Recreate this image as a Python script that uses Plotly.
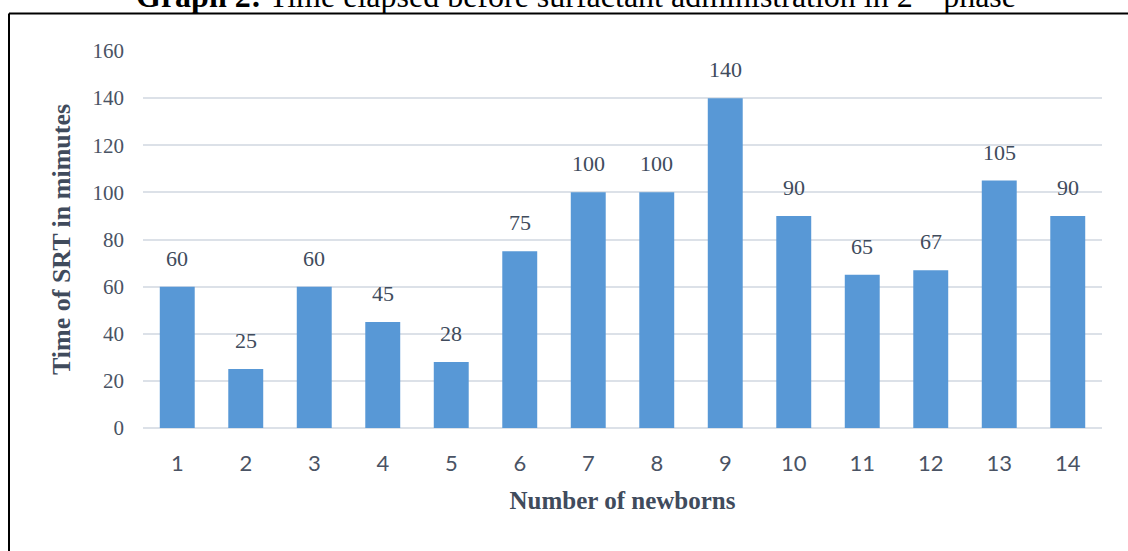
import plotly.graph_objects as go

# Time from birth to surfactant replacement therapy, per newborn
newborns = list(range(1, 15))
minutes = [60, 25, 60, 45, 28, 75, 100, 100, 140, 90, 65, 67, 105, 90]
y_ticks = [0, 20, 40, 60, 80, 100, 120, 140, 160]

W, H = 1128, 551
L, R, T, B = 143, 26, 51, 123
plot_w = W - L - R
plot_h = H - T - B

serif = "Liberation Serif, Times New Roman, serif"
sans = "Lato, Carlito, Calibri, sans-serif"
text_col = "#404B5C"
tick_col = "#4A5364"
grid_col = "#DCE1E8"

fig = go.Figure()
fig.add_trace(go.Bar(
    x=newborns,
    y=minutes,
    width=0.51,
    marker=dict(color="#5898D6", line=dict(width=0)),
    hoverinfo="x+y",
))

# value labels above each bar
for xv, yv in zip(newborns, minutes):
    fig.add_annotation(
        x=xv, y=yv, xref="x", yref="y",
        text=str(yv), showarrow=False,
        yanchor="bottom", yshift=14,
        font=dict(family=serif, size=22, color=text_col),
    )

def px_x(p):
    return (p - L) / plot_w

def px_y(p):
    return (H - B - p) / plot_h

# heading of the figure, running off the top edge
fig.add_annotation(
    x=px_x(576), y=px_y(-6), xref="paper", yref="paper",
    xanchor="center", yanchor="middle", showarrow=False,
    text="<b>Graph 2:</b> Time elapsed before surfactant administration in 2<sup>nd</sup> phase",
    font=dict(family=serif, size=32, color="#000000"),
)

# frame lines along the top and left of the figure
fig.add_shape(type="line", xref="paper", yref="paper",
              x0=px_x(9), x1=px_x(1140), y0=px_y(13.5), y1=px_y(13.5),
              line=dict(color="#000000", width=2))
fig.add_shape(type="line", xref="paper", yref="paper",
              x0=px_x(9), x1=px_x(9), y0=px_y(13.5), y1=px_y(600),
              line=dict(color="#000000", width=2))

fig.update_layout(
    width=W, height=H,
    margin=dict(l=L, r=R, t=T, b=B, autoexpand=False),
    paper_bgcolor="#FFFFFF",
    plot_bgcolor="#FFFFFF",
    showlegend=False,
    xaxis=dict(
        range=[0.5, 14.5],
        tickvals=newborns,
        tickfont=dict(family=sans, size=22, color=tick_col),
        showgrid=False,
        showline=False,
        zeroline=False,
        ticks="",
        ticklabelstandoff=20,
        title=dict(text="<b>Number of newborns</b>",
                   font=dict(family=serif, size=25, color=text_col),
                   standoff=16),
    ),
    yaxis=dict(
        range=[0, 160],
        tickvals=y_ticks,
        tickfont=dict(family=serif, size=21, color=tick_col),
        showgrid=True,
        gridcolor=grid_col,
        gridwidth=2,
        zeroline=True,
        zerolinecolor=grid_col,
        zerolinewidth=2,
        showline=False,
        ticks="",
        ticklabelstandoff=18,
        title=dict(text="<b>Time of SRT in mimutes</b>",
                   font=dict(family=serif, size=26, color=text_col),
                   standoff=14),
    ),
)

fig.write_html("out.html")
